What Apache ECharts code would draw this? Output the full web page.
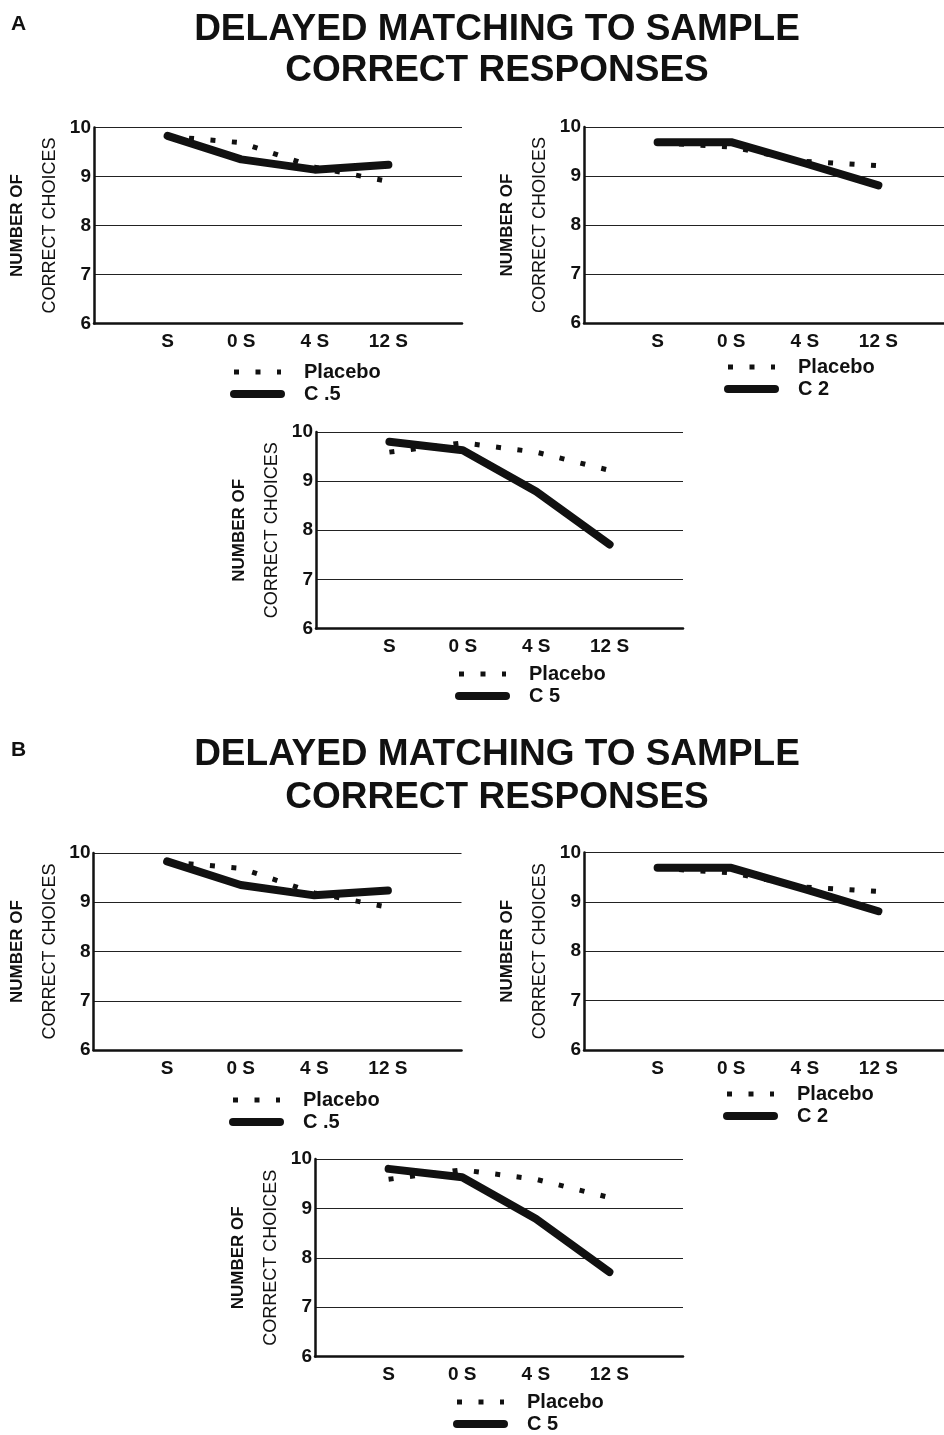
<!DOCTYPE html>
<html><head><meta charset="utf-8">
<script src="https://cdn.jsdelivr.net/npm/echarts@6/dist/echarts.min.js"></script>
<style>html,body{margin:0;padding:0;background:#fff}#c{width:944px;height:1435px}</style>
</head><body><div id="c"></div>
<script>
// ---- data ----
const panelLetters = ['A', 'B'];
const titleLines = ['DELAYED MATCHING TO SAMPLE', 'CORRECT RESPONSES'];
const xLabels = ['S', '0 S', '4 S', '12 S'];
const yAxisNameLines = ['NUMBER OF', 'CORRECT CHOICES'];
const placeboName = 'Placebo';
const doseNames = ['C .5', 'C 2', 'C 5'];
const placeboC05 = [9.82, 9.69, 9.19, 8.90];
const doseC05 = [9.83, 9.35, 9.14, 9.24];
const placeboC2 = [9.68, 9.59, 9.30, 9.21];
const doseC2 = [9.69, 9.69, 9.26, 8.81];
const placeboC5 = [9.59, 9.78, 9.59, 9.22];
const doseC5 = [9.80, 9.63, 8.79, 7.71];
const yMin = 6, yMax = 10, yStep = 1;

// ---- layout ----
const FONT = "'Liberation Sans', Arial, Helvetica, sans-serif";
const INK = '#111';
const gridRects = [
  {left: 94, top: 127.5, width: 368, height: 196},
  {left: 584, top: 127, width: 368, height: 196},
  {left: 316, top: 432, width: 367, height: 196.5},
  {left: 93.5, top: 853, width: 368, height: 197},
  {left: 584, top: 852.5, width: 368, height: 197.5},
  {left: 315, top: 1159, width: 368, height: 197.5}
];
const legendPos = [
  {left: 230, top: 361}, {left: 724, top: 356}, {left: 455, top: 663},
  {left: 229, top: 1089}, {left: 723, top: 1083}, {left: 453, top: 1391}
];
const panelTitleLayout = [
  {y: 9.5, lh: 41, letterY: 14},
  {y: 733.5, lh: 43, letterY: 740}
];

const subplotData = [
  {placebo: placeboC05, dose: doseC05, name: doseNames[0]},
  {placebo: placeboC2, dose: doseC2, name: doseNames[1]},
  {placebo: placeboC5, dose: doseC5, name: doseNames[2]}
];

const placeboLine = {color: INK, width: 5, type: [5, 16.5], cap: 'butt'};
const doseLine = {color: INK, width: 8, type: 'solid', cap: 'round', join: 'round'};

const grid = [], xAxis = [], yAxis = [], series = [], legend = [], graphic = [];

panelLetters.forEach((letter, p) => {
  const tl = panelTitleLayout[p];
  graphic.push({
    type: 'text', left: 11, top: tl.letterY,
    style: {text: letter, font: 'bold 21px ' + FONT, fill: INK}
  });
  titleLines.forEach((line, j) => {
    graphic.push({
      type: 'text', x: 497, y: tl.y + tl.lh * j + tl.lh / 2,
      style: {text: line, font: 'bold 37px ' + FONT, fill: INK,
              align: 'center', verticalAlign: 'middle',
              textAlign: 'center', textVerticalAlign: 'middle'}
    });
  });
  subplotData.forEach((sd, k) => {
    const i = p * 3 + k;
    grid.push(Object.assign({containLabel: false, outerBoundsMode: 'none'}, gridRects[i]));
    xAxis.push({
      type: 'value', gridIndex: i, min: 0, max: xLabels.length + 1, interval: 1,
      axisLine: {show: true, onZero: false, lineStyle: {color: INK, width: 2.5}},
      axisTick: {show: false}, splitLine: {show: false},
      axisLabel: {
        formatter: v => (v >= 1 && v <= xLabels.length) ? xLabels[v - 1] : '',
        fontFamily: FONT, fontSize: 19, fontWeight: 'bold', color: INK, margin: 9
      }
    });
    yAxis.push({
      type: 'value', gridIndex: i, min: yMin, max: yMax, interval: yStep,
      axisLine: {show: true, onZero: false, lineStyle: {color: INK, width: 2.5}},
      axisTick: {show: false},
      splitLine: {show: true, lineStyle: {color: '#222', width: 1.2}},
      axisLabel: {fontFamily: FONT, fontSize: 19, fontWeight: 'bold', color: INK, margin: 3},
      name: '{a|' + yAxisNameLines[0] + '}\n{b|' + yAxisNameLines[1] + '}',
      nameLocation: 'middle', nameGap: 27,
      nameTextStyle: {
        color: INK, fontFamily: FONT,
        rich: {
          a: {fontFamily: FONT, fontSize: 17, fontWeight: 'bold', color: INK, lineHeight: 33},
          b: {fontFamily: FONT, fontSize: 18, fontWeight: 'normal', color: INK, lineHeight: 33}
        }
      }
    });
    series.push({
      type: 'line', name: placeboName, xAxisIndex: i, yAxisIndex: i,
      data: sd.placebo.map((v, j) => [j + 1, v]),
      symbol: 'none', lineStyle: placeboLine, silent: true, z: 2
    });
    series.push({
      type: 'line', name: sd.name, xAxisIndex: i, yAxisIndex: i,
      data: sd.dose.map((v, j) => [j + 1, v]),
      symbol: 'none', lineStyle: doseLine, silent: true, z: 3
    });
    legend.push({
      left: legendPos[i].left, top: legendPos[i].top, orient: 'vertical',
      padding: 0, itemGap: 0, itemWidth: 47, itemHeight: 14,
      selectedMode: false,
      textStyle: {fontFamily: FONT, fontSize: 20, fontWeight: 'bold', color: INK,
                  lineHeight: 22, padding: [0, 0, 0, 18]},
      data: [
        {name: placeboName, lineStyle: placeboLine, itemStyle: {opacity: 0}},
        {name: sd.name, lineStyle: doseLine, itemStyle: {opacity: 0}}
      ]
    });
  });
});

const chart = echarts.init(document.getElementById('c'), null, {renderer: 'canvas'});
chart.setOption({
  animation: false,
  backgroundColor: '#fff',
  textStyle: {fontFamily: FONT},
  grid, xAxis, yAxis, series, legend, graphic
});
</script>
</body></html>
